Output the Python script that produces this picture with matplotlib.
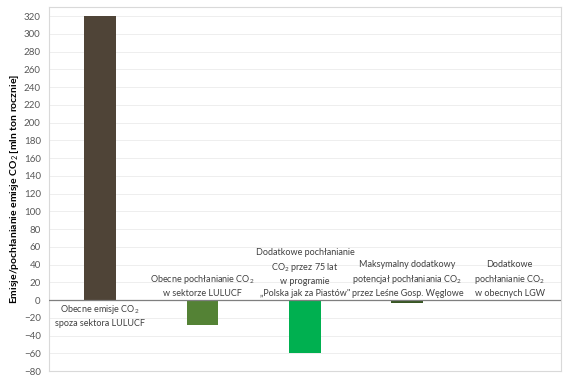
import numpy as np
import matplotlib
matplotlib.use('Agg')
import matplotlib.pyplot as plt

plt.rcParams['font.family'] = ['Lato', 'DejaVu Sans']
plt.rcParams['mathtext.fontset'] = 'custom'
plt.rcParams['mathtext.rm'] = 'Lato'
plt.rcParams['mathtext.it'] = 'Lato:italic'
plt.rcParams['mathtext.bf'] = 'Lato:bold'

# dane
kategorie = [
    'Obecne emisje CO$_2$\nspoza sektora LULUCF',
    'Obecne pochłanianie CO$_2$\nw sektorze LULUCF',
    'Dodatkowe pochłanianie\nCO$_2$ przez 75 lat\nw programie\n„Polska jak za Piastów"',
    'Maksymalny dodatkowy\npotencjał pochłaniania CO$_2$\nprzez Leśne Gosp. Węglowe',
    'Dodatkowe\npochłanianie CO$_2$\nw obecnych LGW',
]
wartosci = [320, -28, -60, -3, -1]
kolory = ['#4f4437', '#548235', '#00b050', '#375623', '#f4b183']
y_ticks = list(range(-80, 321, 20))

fig = plt.figure(figsize=(5.7, 3.78), dpi=100)
ax = fig.add_axes([0.086, 0.018, 0.898, 0.963])

x = np.arange(len(wartosci))
ax.bar(x, wartosci, width=0.31, color=kolory, zorder=3)
ax.axhline(0, color='#7f7f7f', lw=0.9, zorder=4)

ax.set_xlim(-0.5, len(wartosci) - 0.5)
ax.set_ylim(-80, 330)
ax.set_yticks(y_ticks)
ax.set_xticks([])
ax.tick_params(axis='y', length=0, labelsize=7, colors='#595959', pad=6)
ax.yaxis.grid(True, color='#eeeeee', lw=0.7, zorder=0)

for s in ax.spines.values():
    s.set_color('#d9d9d9')
    s.set_linewidth(0.8)

ax.set_ylabel('Emisje/pochłanianie emisje CO$_2$ [mln ton rocznie]',
              fontsize=7.5, fontweight='bold', color='#000000', labelpad=2)

for i, (lab, v) in enumerate(zip(kategorie, wartosci)):
    if v > 0:
        ax.text(i, -3, lab, ha='center', va='top', fontsize=6.5,
                color='#404040', linespacing=1.45)
    else:
        ax.text(i, 2, lab, ha='center', va='bottom', fontsize=6.5,
                color='#404040', linespacing=1.45)

plt.savefig('out.png', dpi=100)
